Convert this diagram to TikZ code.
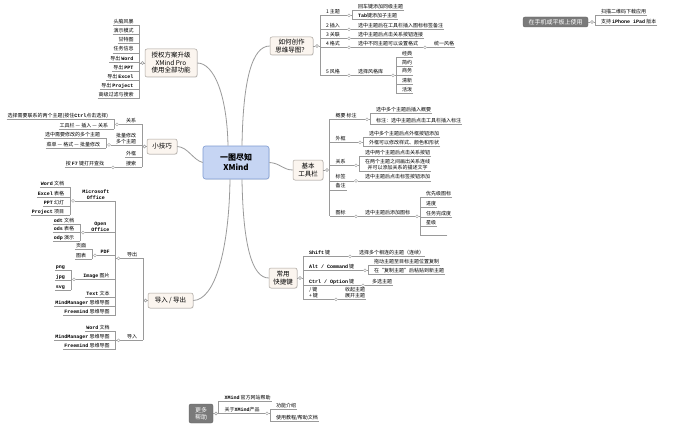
\documentclass[tikz,border=0pt]{standalone}
\usepackage{fontspec}
\setmainfont{Noto Sans CJK SC}
\newfontfamily\monof{Liberation Mono}
\newcommand\en[1]{{\monof\bfseries #1}}
\usetikzlibrary{calc,shadows}
\definecolor{linegray}{HTML}{9A9A9A}
\definecolor{boxfill}{HTML}{FBF5EF}
\definecolor{boxgray}{HTML}{A9A39D}
\definecolor{cfill}{HTML}{C6D5F3}
\definecolor{cdraw}{HTML}{7F9BD1}
\definecolor{darkfill}{HTML}{7A7A7A}
\tikzset{
 ln/.style={draw=linegray, line width=0.5pt},
 conn/.style={draw=linegray, line width=0.8pt},
 leaf/.style={font=\fontsize{5}{6}\selectfont, inner sep=0.8pt, text height=3.8pt, text depth=1pt},
 leaftwo/.style={font=\fontsize{5}{6}\selectfont, inner sep=0.8pt, align=center},
 knob/.style={circle, draw=gray!80, fill=white, line width=0.4pt, inner sep=0pt, minimum size=3pt},
 topic/.style={rounded corners=2pt, draw=boxgray, fill=boxfill, line width=0.5pt, font=\fontsize{6.5}{7.5}\selectfont, align=center, inner sep=1pt, drop shadow={opacity=0.2,shadow xshift=0.6pt,shadow yshift=-0.6pt}},
 centre/.style={rounded corners=2.5pt, draw=cdraw, fill=cfill, line width=0.6pt, font=\fontsize{8}{10}\selectfont\bfseries, align=center, inner sep=1pt, drop shadow={opacity=0.2,shadow xshift=0.6pt,shadow yshift=-0.6pt}},
 darkbox/.style={rounded corners=2pt, draw=darkfill!80!black, fill=darkfill, text=white, line width=0.4pt, font=\fontsize{6}{7}\selectfont, align=center, inner sep=1pt}
}
% right-facing leaf: style, name, spine x, centre y, text
\newcommand\RL[5][leaf]{\node[#1,anchor=west] (#2) at (#3+5,#4) {#5};
 \draw[ln] (#2.south east) -- (#2.south west) -- ++(-5,0);}
% right-facing with knob: style, name, spine x, centre y, knob x, text
\newcommand\RK[6][leaf]{\node[#1,anchor=west] (#2) at (#3+5,#4) {#6};
 \coordinate (#2-x) at (#5,0);
 \node[knob] (#2-k) at (#2.south -| #2-x) {};
 \draw[ln] (#2-k) -- (#2.south west) -- ++(-5,0);
 \coordinate (#2-s) at ($(#2-k)+(3,0)$);}
\newcommand\LL[5][leaf]{\node[#1,anchor=east] (#2) at (#3-5,#4) {#5};
 \draw[ln] (#2.south west) -- (#2.south east) -- ++(5,0);}
\newcommand\LK[6][leaf]{\node[#1,anchor=east] (#2) at (#3-5,#4) {#6};
 \coordinate (#2-x) at (#5,0);
 \node[knob] (#2-k) at (#2.south -| #2-x) {};
 \draw[ln] (#2-k) -- (#2.south east) -- ++(5,0);
 \coordinate (#2-s) at ($(#2-k)+(-3,0)$);}
\newcommand\SPR[3]{\draw[ln] (#1-k) -- (#1-s);
 \draw[ln] ($(#2.south west)+(-5,0)$) -- ($(#3.south west)+(-5,0)$);}
\newcommand\SPL[3]{\draw[ln] (#1-k) -- (#1-s);
 \draw[ln] ($(#2.south east)+(5,0)$) -- ($(#3.south east)+(5,0)$);}
\begin{document}
\begin{tikzpicture}[x=1pt,y=-1pt]
\fill[white] (0,0) rectangle (676,425);
\useasboundingbox (0,0) rectangle (676,425);

% ---------- centre ----------
\node[centre, minimum width=66pt, minimum height=33pt] (ctr) at (236,162.5) {一图尽知\\XMind};

% ---------- top-left : Pro ----------
\node[topic, minimum width=52pt, minimum height=28pt] (tl) at (171,63) {授权方案升级\\XMind Pro\\使用全部功能};
\node[knob] (tl-k) at (142.5,63) {};
\coordinate (tl-s) at (139.5,63);
\draw[ln] (tl.west) -- (tl-k);
\LL{a1}{139.5}{22}{头脑风暴}
\LL{a2}{139.5}{31}{演示模式}
\LL{a3}{139.5}{40}{甘特图}
\LL{a4}{139.5}{49.5}{任务信息}
\LL{a5}{139.5}{59}{导出 \en{Word}}
\LL{a6}{139.5}{68}{导出 \en{PPT}}
\LL{a7}{139.5}{77}{导出 \en{Excel}}
\LL{a8}{139.5}{86}{导出 \en{Project}}
\LL{a9}{139.5}{95}{高级过滤与搜索}
\SPL{tl}{a1}{a9}

% ---------- 小技巧 ----------
\node[topic, minimum width=30pt, minimum height=15pt] (xj) at (162,146.5) {小技巧};
\node[knob] (xj-k) at (144.5,146.5) {};
\coordinate (xj-s) at (142,146.5);
\draw[ln] (xj.west) -- (xj-k);
\LK{b1}{142}{121}{117}{关系}
\LL{b11}{114}{116}{选择需要联系的两个主题(按住\en{Ctrl}点击选择)}
\LL{b12}{114}{126}{工具栏 — 插入 — 关系}
\SPL{b1}{b11}{b12}
\LK[leaftwo]{b2}{142}{138.5}{109}{批量修改\\多个主题}
\LL{b21}{106}{135}{选中需要修改的多个主题}
\LL{b22}{106}{145}{菜单 — 格式 — 批量修改}
\SPL{b2}{b21}{b22}
\LL{b3}{142}{154}{外框}
\LK{b4}{142}{164}{113}{搜索}
\LL{b41}{110}{164}{按 \en{F7} 键打开查找}
\SPL{b4}{b41}{b41}
\SPL{xj}{b1}{b4}

% ---------- 导入 / 导出 ----------
\node[topic, minimum width=45pt, minimum height=15pt] (io) at (170.5,300.5) {导入 / 导出};
\node[knob] (io-k) at (145.5,300.5) {};
\coordinate (io-s) at (143,300.5);
\draw[ln] (io.west) -- (io-k);
\LK{c1}{143}{255}{118.5}{导出}
\LK[leaftwo]{c11}{115.5}{195}{73}{\en{Microsoft}\\\en{Office}}
\LL{c111}{70}{184}{\en{Word} 文档}
\LL{c112}{70}{194}{\en{Excel} 表格}
\LL{c113}{70}{203}{\en{PPT} 幻灯}
\LL{c114}{70}{212}{\en{Project} 项目}
\SPL{c11}{c111}{c114}
\LK[leaftwo]{c12}{115.5}{227}{83}{\en{Open}\\\en{Office}}
\LL{c121}{80}{221}{\en{odt} 文档}
\LL{c122}{80}{229}{\en{ods} 表格}
\LL{c123}{80}{238}{\en{odp} 演示}
\SPL{c12}{c121}{c123}
\LK{c13}{115.5}{252}{95}{\en{PDF}}
\LL{c131}{92}{246}{页面}
\LL{c132}{92}{256}{图表}
\SPL{c13}{c131}{c132}
\LK{c14}{115.5}{276}{74}{\en{Image} 图片}
\LL{c141}{71}{267}{\en{png}}
\LL{c142}{71}{277}{\en{jpg}}
\LL{c143}{71}{287}{\en{svg}}
\SPL{c14}{c141}{c143}
\LL{c15}{115.5}{294}{\en{Text} 文本}
\LL{c16}{115.5}{303}{\en{MindManager} 思维导图}
\LL{c17}{115.5}{312}{\en{Freemind} 思维导图}
\SPL{c1}{c11}{c17}
\LK{c2}{143}{337}{118.5}{导入}
\LL{c21}{115.5}{328}{\en{Word} 文档}
\LL{c22}{115.5}{337}{\en{MindManager} 思维导图}
\LL{c23}{115.5}{346}{\en{Freemind} 思维导图}
\SPL{c2}{c21}{c23}
\SPL{io}{c1}{c2}

% ---------- 如何创作思维导图 ----------
\node[topic, minimum width=43pt, minimum height=18pt] (hz) at (291.5,46) {如何创作\\思维导图？};
\node[knob] (hz-k) at (317,46) {};
\coordinate (hz-s) at (320,46);
\draw[ln] (hz.east) -- (hz-k);
\RK{d1}{320}{12}{349}{1 主题}
\RL{d11}{352}{7}{回车键添加同级主题}
\RL{d12}{352}{16}{\en{Tab}键添加子主题}
\SPR{d1}{d11}{d12}
\RK{d2}{320}{26}{349}{2 插入}
\RL{d21}{352}{26}{选中主题后在工具栏插入图标标签备注}
\SPR{d2}{d21}{d21}
\RK{d3}{320}{35}{349}{3 关联}
\RL{d31}{352}{35}{选中主题后点击关系按钮连接}
\SPR{d3}{d31}{d31}
\RK{d4}{320}{44}{349}{4 格式}
\RK{d41}{352}{44}{425}{选中不同主题可以设置格式}
\RL{d411}{428}{44}{统一风格}
\SPR{d41}{d411}{d411}
\SPR{d4}{d41}{d41}
\RK{d5}{320}{72}{349}{5 风格}
\RK{d51}{352}{72}{393}{选择风格库}
\RL{d511}{396}{54}{经典}
\RL{d512}{396}{63}{简约}
\RL{d513}{396}{71.5}{商务}
\RL{d514}{396}{81}{清新}
\RL{d515}{396}{90}{活泼}
\SPR{d51}{d511}{d515}
\SPR{d5}{d51}{d51}
\SPR{hz}{d1}{d5}

% ---------- 基本工具栏 ----------
\node[topic, minimum width=30pt, minimum height=20pt] (jb) at (308,170) {基本\\工具栏};
\node[knob] (jb-k) at (327,170) {};
\coordinate (jb-s) at (329.5,170);
\draw[ln] (jb.east) -- (jb-k);
\RK{e1}{329.5}{116}{367}{概要 标注}
\RL{e11}{370}{110}{选中多个主题后插入概要}
\RL{e12}{370}{121}{标注：选中主题后点击工具栏插入标注}
\SPR{e1}{e11}{e12}
\RK{e2}{329.5}{139}{360}{外框}
\RL{e21}{363}{134}{选中多个主题后点外框按钮添加}
\RL{e22}{363}{143}{外框可以修改样式、颜色和形状}
\SPR{e2}{e21}{e22}
\RK{e3}{329.5}{162}{356}{关系}
\RL{e31}{359}{153}{选中两个主题后点击关系按钮}
\RL[leaftwo]{e32}{359}{165}{在两个主题之间画出关系连线\\并可以添加关系的描述文字}
\SPR{e3}{e31}{e32}
\RK{e4}{329.5}{177.5}{356}{标签}
\RL{e41}{359}{177.5}{选中主题后点击标签按钮添加}
\SPR{e4}{e41}{e41}
\RL{e5}{329.5}{186.5}{备注}
\RK{e6}{329.5}{213}{356}{图标}
\RK{e61}{359}{213}{417}{选中主题后添加图标}
\RL{e611}{420}{194}{优先级图标}
\RL{e612}{420}{204}{进度}
\RL{e613}{420}{214}{任务完成度}
\RL{e614}{420}{223}{星级}
\RL[leaf,minimum width=22pt]{e615}{420}{232}{}
\SPR{e61}{e611}{e615}
\SPR{e6}{e61}{e61}
\SPR{jb}{e1}{e6}

% ---------- 常用快捷键 ----------
\node[topic, minimum width=28pt, minimum height=20pt] (kj) at (283,278) {常用\\快捷键};
\node[knob] (kj-k) at (300,278) {};
\coordinate (kj-s) at (303,278);
\draw[ln] (kj.east) -- (kj-k);
\RK{f1}{303}{253}{350}{\en{Shift} 键}
\RL{f11}{353}{253}{选择多个相连的主题（连续）}
\SPR{f1}{f11}{f11}
\RK{f2}{303}{267}{365}{\en{Alt / Command} 键}
\RL{f21}{368}{262}{拖动主题至目标主题位置复制}
\RL{f22}{368}{271}{在“复制主题”后粘贴到新主题}
\SPR{f2}{f21}{f22}
\RK{f3}{303}{282}{363}{\en{Ctrl / Option} 键}
\RL{f31}{366}{282}{多选主题}
\SPR{f3}{f31}{f31}
\RK[leaftwo]{f4}{303}{293}{336}{/ 键\\+ 键}
\RL[leaftwo]{f41}{339}{293}{收起主题\\展开主题}
\SPR{f4}{f41}{f41}
\SPR{kj}{f1}{f4}

% ---------- top-right ----------
\node[darkbox, minimum width=65pt, minimum height=10pt] (sj) at (555.5,22) {在手机或平板上使用};
\node[knob] (sj-k) at (592,22) {};
\coordinate (sj-s) at (595,22);
\draw[ln] (sj.east) -- (sj-k);
\RL{g1}{595}{12}{扫描二维码下载应用}
\RL{g2}{595}{22}{支持 \en{iPhone iPad} 版本}
\SPR{sj}{g1}{g2}

% ---------- bottom ----------
\node[darkbox, minimum width=24pt, minimum height=19pt] (bz) at (201,413.5) {更多\\帮助};
\node[knob] (bz-k) at (216,413.5) {};
\coordinate (bz-s) at (218.5,413.5);
\draw[ln] (bz.east) -- (bz-k);
\RL{h1}{218.5}{398}{\en{XMind} 官方网站帮助}
\RK{h2}{218.5}{410}{267}{关于\en{XMind}产品}
\RL{h21}{270}{406}{功能介绍}
\RL{h22}{270}{418}{使用教程/帮助文档}
\SPR{h2}{h21}{h22}
\SPR{bz}{h1}{h2}

% ---------- main connectors ----------
\draw[conn] ([xshift=-8pt]ctr.north) .. controls (227,95) and (214,63) .. (tl.east);
\draw[conn] ([xshift=6pt]ctr.north) .. controls (243,80) and (252,46) .. (hz.west);
\draw[conn] (ctr.west) .. controls (193,160) and (188,147) .. (xj.east);
\draw[conn] (ctr.east) .. controls (280,163) and (283,170) .. (jb.west);
\draw[conn] ([xshift=-6pt]ctr.south) .. controls (229,250) and (215,300) .. (io.east);
\draw[conn] ([xshift=6pt]ctr.south) .. controls (243,245) and (252,278) .. (kj.west);
\end{tikzpicture}
\end{document}
